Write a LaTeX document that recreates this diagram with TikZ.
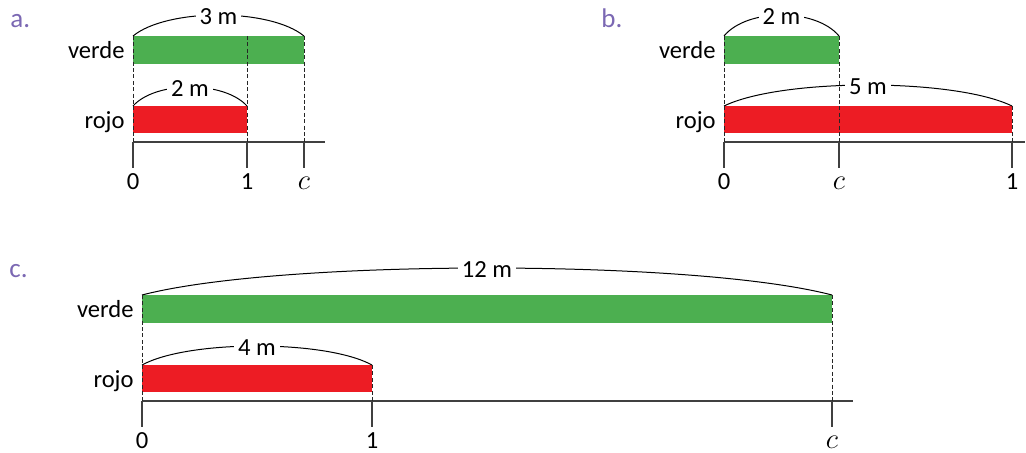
\documentclass[tikz,border=0pt]{standalone}
\usepackage{fontspec}
\setmainfont{Carlito}
\usepackage{xcolor}
\definecolor{barverde}{HTML}{4CAF50}
\definecolor{barrojo}{HTML}{ED1C24}
\definecolor{letralila}{HTML}{7B68B3}
\usepackage{tikz}
\usetikzlibrary{calc}
\newcommand\valc{{\fontsize{14.5}{16}\selectfont$c$}}

\begin{document}
\begin{tikzpicture}[x=0.5pt, y=-0.5pt,
      eje/.style={draw=black!75, line width=0.7pt},
      guia/.style={draw=black!85, line width=0.45pt, dash pattern=on 2pt off 1.2pt},
      arco/.style={draw=black, line width=0.5pt},
      rotulo/.style={font=\fontsize{12.3}{14}\selectfont, inner sep=0pt},
      medida/.style={font=\fontsize{12.3}{14}\selectfont, fill=white, inner xsep=2pt, inner ysep=0pt},
      letra/.style={font=\fontsize{13.5}{16}\selectfont, text=letralila, inner sep=0pt}
    ]
    \useasboundingbox (0,0) rectangle (1026,452);
    \foreach \p/\lx/\ly/\xo/\xv/\xr/\xe/\dy/\hv/\hr/\sr/\mv/\mr in {a/10/27/133/304/247/325/0/21/19/36/3/2, b/601/27/724/839/1012/1025/0/21/21/106/2/5, c/9/277/142/832/372/853/259/27/19/106/12/4} {
      \node[letra, anchor=base west] (l\p) at (\lx,\ly) {\p.};
      \coordinate (v0\p) at (\xo,\dy+36);
      \coordinate (v1\p) at (\xv,\dy+36);
      \coordinate (r0\p) at (\xo,\dy+106);
      \coordinate (r1\p) at (\xr,\dy+106);
      \coordinate (e0\p) at (\xo,\dy+142);
      \coordinate (ev\p) at (\xv,\dy+142);
      \coordinate (er\p) at (\xr,\dy+142);
      \coordinate (ef\p) at (\xe,\dy+142);
      \fill[barverde] (v0\p) rectangle (\xv,\dy+64);
      \fill[barrojo] (r0\p) rectangle (\xr,\dy+133);
      \node[rotulo, anchor=base east] (nv\p) at (\xo-8,\dy+58) {verde};
      \node[rotulo, anchor=base east] (nr\p) at (\xo-8,\dy+128) {rojo};
      \pgfmathsetmacro\dv{0.2*(\xv-\xo)}
      \pgfmathsetmacro\dr{0.2*(\xr-\xo)}
      \draw[arco] (v0\p) .. controls +(\dv,-1.333*\hv) and +(-\dv,-1.333*\hv) .. (v1\p);
      \draw[arco] (r0\p) .. controls +(\dr,-1.333*\hr) and +(-\dr,-1.333*\hr) .. (r1\p);
      \node[medida] (mv\p) at ({(\xo+\xv)/2},\dy+38-\hv) {\mv~m};
      \node[medida] (mr\p) at ({(\xo+\xr)/2},\dy+108-\hr) {\mr~m};
      \draw[eje] (e0\p) -- (ef\p);
      \draw[guia] (v0\p) -- (e0\p);
      \draw[guia] (v1\p) -- (ev\p);
      \draw[guia] (\xr,\dy+\sr) -- (er\p);
      \foreach \x/\t in {\xo/0,\xv/\valc,\xr/1} {
        \draw[eje] (\x,\dy+142) -- (\x,\dy+168);
        \node[rotulo, anchor=base] (t\p\x) at (\x,\dy+189) {\t};
      }
    }
  \end{tikzpicture}
\end{document}
